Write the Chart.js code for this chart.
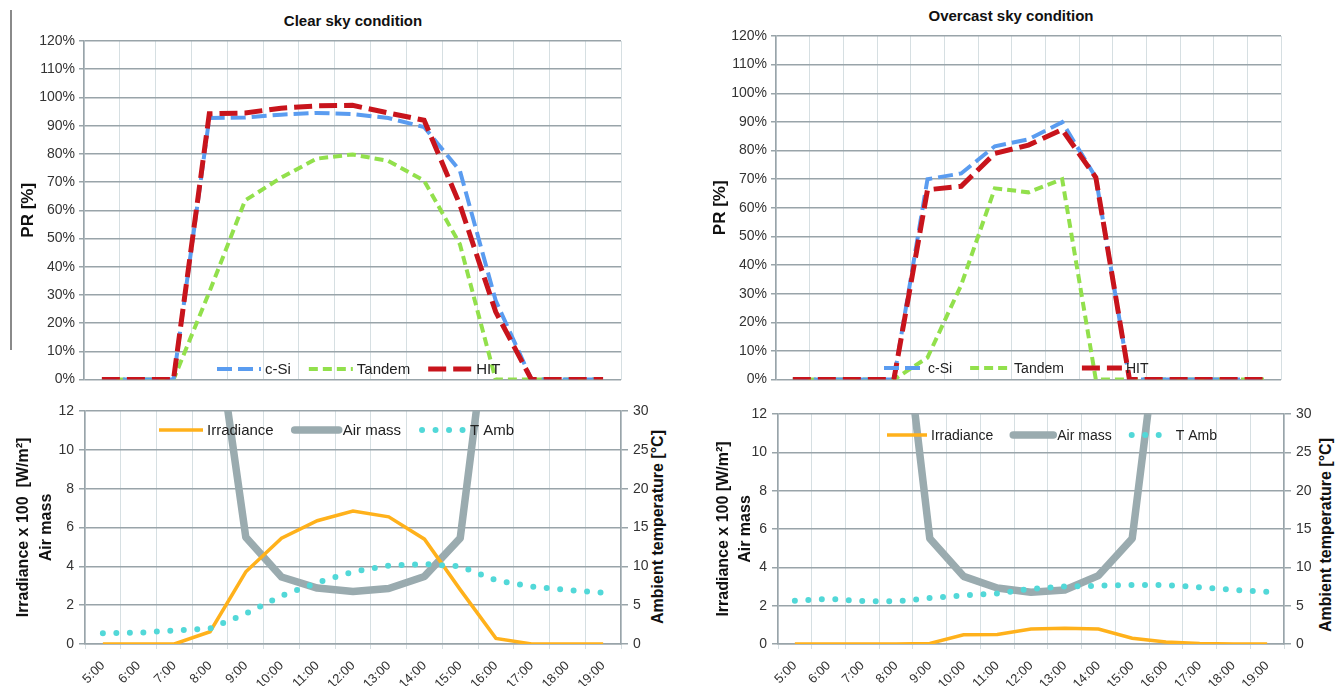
<!DOCTYPE html>
<html>
<head>
<meta charset="utf-8">
<script src="https://cdn.jsdelivr.net/npm/chart.js@4.4.1/dist/chart.umd.min.js"></script>
<style>
  body { margin: 0; width: 1343px; height: 686px; overflow: hidden; background: #fff; font-family: "Liberation Sans", Arial, sans-serif; }
  .c { position: absolute; }
  .ttl { position: absolute; width: 320px; text-align: center; font-weight: bold; font-size: 15px; color: #111; }
  .rt { position: absolute; font-weight: bold; font-size: 16px; color: #111; white-space: nowrap; transform: translate(-50%, -50%) rotate(-90deg); }
  .bar { position: absolute; left: 10px; top: 10px; width: 2px; height: 340px; background: #8a8a8a; }
</style>
</head>
<body>
<div class="bar"></div>
<div class="ttl" style="left:193px;top:12px">Clear sky condition</div>
<div class="ttl" style="left:851px;top:7px">Overcast sky condition</div>
<div class="rt" style="left:658px;top:527px">Ambient temperature [°C]</div>
<div class="rt" style="left:1326px;top:535px">Ambient temperature [°C]</div>

<div class="c" style="left:0;top:0;width:640px;height:392px"><canvas id="prClear"></canvas></div>
<div class="c" style="left:700px;top:0;width:643px;height:392px"><canvas id="prOver"></canvas></div>
<div class="c" style="left:0;top:395px;width:680px;height:310px"><canvas id="envClear"></canvas></div>
<div class="c" style="left:700px;top:395px;width:643px;height:310px"><canvas id="envOver"></canvas></div>

<script>
// categories
var hours = ['5:00', '6:00', '7:00', '8:00', '9:00', '10:00', '11:00', '12:00',
             '13:00', '14:00', '15:00', '16:00', '17:00', '18:00', '19:00'];

// performance ratio, clear sky [%]
var clearCSi    = [0, 0, 0, 92.7, 92.9, 93.9, 94.5, 94.1, 92.7, 89.5, 74, 28, 0, 0, 0];
var clearTandem = [0, 0, 0, 31, 63.5, 71.5, 78.3, 79.8, 77.5, 70.5, 48, 0, 0, 0, 0];
var clearHIT    = [0, 0, 0, 94.2, 94.5, 96.2, 97, 97.2, 94.5, 91.9, 62, 24, 0, 0, 0];

// performance ratio, overcast sky [%]
var overCSi     = [0, 0, 0, 0, 70, 72, 81.5, 83.9, 89.9, 70.6, 0, 0, 0, 0, 0];
var overTandem  = [0, 0, 0, 0, 7.7, 33, 66.8, 65.4, 70, 0, 0, 0, 0, 0, 0];
var overHIT     = [0, 0, 0, 0, 66.3, 67.5, 79, 81.9, 87.3, 70.6, 0, 0, 0, 0, 0];

// irradiance x100 W/m2, air mass, ambient temperature
var clearIrr  = [0, 0, 0, 0.63, 3.72, 5.45, 6.35, 6.85, 6.55, 5.4, 2.8, 0.29, 0, 0, 0];
var clearAM   = [null, null, null, 18.5, 5.5, 3.45, 2.88, 2.7, 2.86, 3.48, 5.45, 20, null, null, null];
var clearTamb = [1.4, 1.45, 1.75, 2.0, 3.9, 6.2, 7.9, 9.3, 10.1, 10.3, 10.0, 8.2, 7.4, 6.95, 6.6];

var overIrr   = [0, 0, 0, 0, 0.03, 0.48, 0.5, 0.78, 0.82, 0.78, 0.3, 0.1, 0.02, 0, 0];
var overAM    = [null, null, null, 20.4, 5.5, 3.53, 2.92, 2.7, 2.82, 3.57, 5.5, 19.6, null, null, null];
var overTamb  = [5.65, 5.9, 5.6, 5.55, 6.0, 6.35, 6.6, 7.2, 7.5, 7.6, 7.7, 7.7, 7.4, 7.05, 6.8];

var prTicks  = { min: 0, max: 120, step: 10 };
var envTicks = { min: 0, max: 12, step: 2 };
var tempTicks = { min: 0, max: 30, step: 5 };

var FONT = '"Liberation Sans", Arial, sans-serif';
var hGrid = '#99a4a9';
var vGrid = '#d6dfe2';

// legend drawn inside the plot, with line samples
var lineLegend = {
  id: 'lineLegend',
  afterDatasetsDraw: function (chart, args, o) {
    var ctx = chart.ctx;
    ctx.save();
    ctx.font = o.size + 'px ' + FONT;
    ctx.textBaseline = 'middle';
    var x = o.x;
    chart.data.datasets.forEach(function (ds) {
      ctx.strokeStyle = ds.borderColor;
      ctx.lineWidth = ds.borderWidth;
      ctx.lineCap = ds.borderCapStyle || 'butt';
      ctx.setLineDash(ds.borderDash || []);
      ctx.beginPath();
      ctx.moveTo(x, o.y);
      ctx.lineTo(x + o.len, o.y);
      ctx.stroke();
      ctx.setLineDash([]);
      ctx.fillStyle = '#222';
      ctx.fillText(ds.label, x + o.len + 4, o.y + 1);
      x += o.len + 4 + ctx.measureText(ds.label).width + o.gap;
    });
    ctx.restore();
  }
};

function prChart(id, cSi, tandem, hit, cfg) {
  new Chart(document.getElementById(id), {
    type: 'line',
    data: {
      labels: hours,
      datasets: [
        { label: 'c-Si', data: cSi, borderColor: '#5a9cf0', borderWidth: 4, borderDash: [15, 6], order: 1 },
        { label: 'Tandem', data: tandem, borderColor: '#92e04c', borderWidth: 4, borderDash: [9, 5], order: 2 },
        { label: 'HIT', data: hit, borderColor: '#c8141c', borderWidth: 5, borderDash: [18, 7], order: 0 }
      ]
    },
    options: {
      responsive: true,
      maintainAspectRatio: false,
      animation: false,
      devicePixelRatio: 1,
      layout: { padding: { top: cfg.top, bottom: 10, right: cfg.right, left: 0 } },
      elements: { point: { radius: 0 }, line: { tension: 0, borderJoinStyle: 'miter' } },
      plugins: {
        legend: { display: false },
        tooltip: { enabled: false },
        lineLegend: cfg.legend
      },
      scales: {
        x: {
          offset: true,
          grid: { offset: true, color: vGrid, lineWidth: 1, drawTicks: false },
          border: { display: false },
          ticks: { display: false },
          afterFit: function (s) { s.height = 0; }
        },
        y: {
          min: prTicks.min, max: prTicks.max,
          ticks: { stepSize: prTicks.step, padding: 4, color: '#333', font: { family: FONT, size: 14 },
                   callback: function (v) { return v + '%'; } },
          grid: { color: hGrid, lineWidth: 1.5, tickLength: 5 },
          border: { color: hGrid, width: 1.5 },
          title: { display: true, text: 'PR [%]', color: '#111', padding: { top: cfg.tpad, bottom: 0 },
                   font: { family: FONT, size: 17, weight: 'bold', lineHeight: 1.2 } },
          afterFit: function (s) { s.width = cfg.yw; }
        }
      }
    },
    plugins: [lineLegend]
  });
}

function envChart(id, irr, am, tamb, cfg) {
  new Chart(document.getElementById(id), {
    type: 'line',
    data: {
      labels: hours,
      datasets: [
        { label: 'Irradiance', data: irr, borderColor: '#ffb11b', borderWidth: 3.5, yAxisID: 'y', order: 1 },
        { label: 'Air mass', data: am, borderColor: '#9aabaf', borderWidth: 7.5, borderCapStyle: 'round',
          borderJoinStyle: 'round', yAxisID: 'y', order: 2, clip: 0 },
        { label: 'T Amb', data: tamb, borderColor: '#52d8d8', borderWidth: 6, borderDash: [0, 13.5],
          borderCapStyle: 'round', yAxisID: 'y2', order: 0 }
      ]
    },
    options: {
      responsive: true,
      maintainAspectRatio: false,
      animation: false,
      devicePixelRatio: 1,
      layout: { padding: { top: cfg.top, bottom: 0, right: 0, left: 0 } },
      elements: { point: { radius: 0 }, line: { tension: 0 } },
      plugins: {
        legend: { display: false },
        tooltip: { enabled: false },
        lineLegend: cfg.legend
      },
      scales: {
        x: {
          offset: true,
          grid: { offset: true, color: vGrid, lineWidth: 1, tickLength: 5 },
          border: { color: hGrid, width: 1.5 },
          ticks: { autoSkip: false, minRotation: 45, maxRotation: 45, padding: 9, color: '#333',
                   font: { family: FONT, size: 13 } },
          afterFit: function (s) { s.height = 61; }
        },
        y: {
          min: envTicks.min, max: envTicks.max,
          ticks: { stepSize: envTicks.step, padding: 5, color: '#333', font: { family: FONT, size: 14 } },
          grid: { color: hGrid, lineWidth: 1.5, tickLength: 6 },
          border: { color: hGrid, width: 1.5 },
          title: { display: true, text: cfg.ytitle, color: '#111', padding: { top: cfg.tpad, bottom: 0 },
                   font: { family: FONT, size: 16, weight: 'bold', lineHeight: cfg.lh } },
          afterFit: function (s) { s.width = cfg.yw; }
        },
        y2: {
          position: 'right',
          min: tempTicks.min, max: tempTicks.max,
          ticks: { stepSize: tempTicks.step, padding: 5, color: '#333', font: { family: FONT, size: 14 } },
          grid: { drawOnChartArea: false, color: hGrid, lineWidth: 1.5, tickLength: 7 },
          border: { color: hGrid, width: 1.5 },
          afterFit: function (s) { s.width = 59; }
        }
      }
    },
    plugins: [lineLegend]
  });
}

prChart('prClear', clearCSi, clearTandem, clearHIT,
  { top: 41, right: 19, yw: 84, tpad: 18, legend: { x: 217, y: 369, len: 44, gap: 18, size: 15 } });
prChart('prOver', overCSi, overTandem, overHIT,
  { top: 36, right: 62, yw: 76, tpad: 10, legend: { x: 184, y: 368, len: 40, gap: 18, size: 14 } });
envChart('envClear', clearIrr, clearAM, clearTamb,
  { top: 16, yw: 85, tpad: 12, lh: 1.45, ytitle: ['Irradiance x 100  [W/m²]', 'Air mass'],
    legend: { x: 159, y: 35, len: 44, gap: 21, size: 15 } });
envChart('envOver', overIrr, overAM, overTamb,
  { top: 19, yw: 78, tpad: 13, lh: 1.35, ytitle: ['Irradiance x 100 [W/m²]', 'Air mass'],
    legend: { x: 187, y: 40, len: 40, gap: 20, size: 14 } });
</script>
</body>
</html>
